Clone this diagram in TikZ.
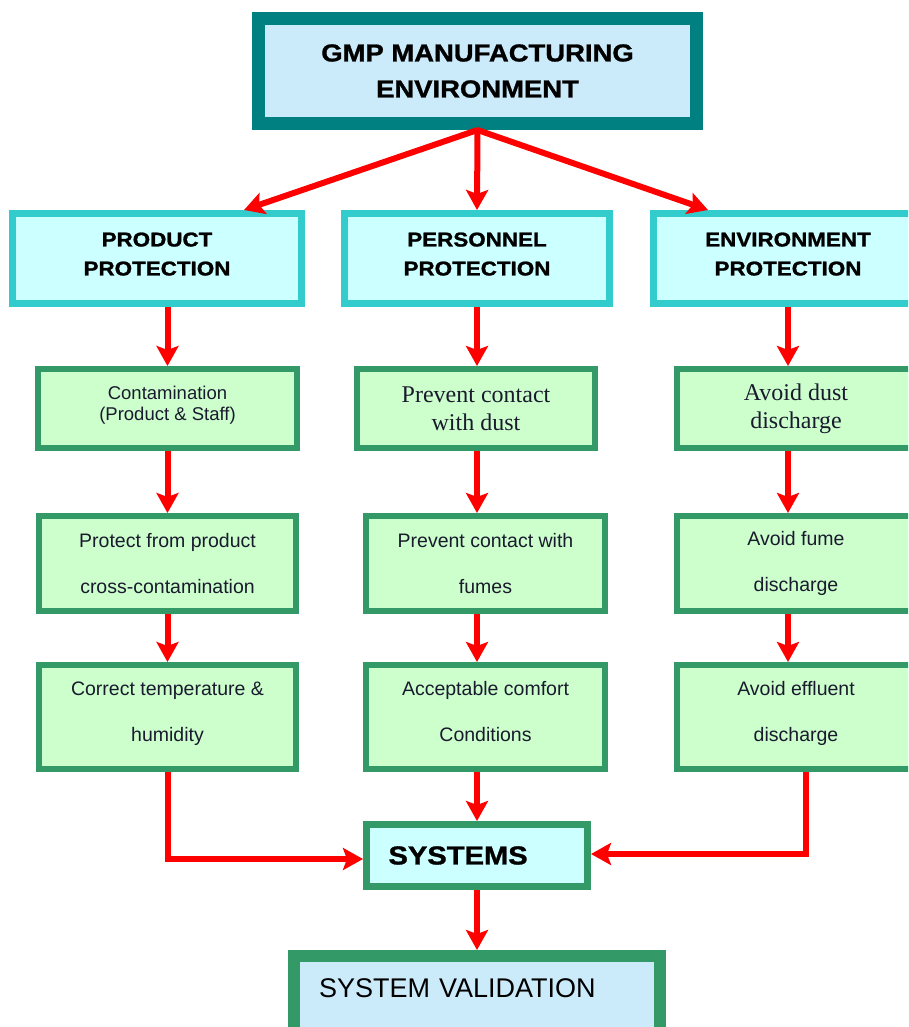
\documentclass[tikz,border=0pt]{standalone}
\usepackage{fontspec}
\setmainfont{Liberation Serif}
\setsansfont{Liberation Sans}
\newfontfamily\heavyfont[FakeBold=1.2,FakeStretch=1.12]{Liberation Sans Bold}
\usetikzlibrary{arrows.meta}
\definecolor{tealline}{HTML}{008080}
\definecolor{skyfill}{HTML}{CCEBFA}
\definecolor{turqline}{HTML}{33CCCC}
\definecolor{aquafill}{HTML}{CCFFFF}
\definecolor{greenline}{HTML}{339966}
\definecolor{mintfill}{HTML}{CCFFCC}
\definecolor{navytext}{HTML}{1A1A2E}

\begin{document}
\begin{tikzpicture}[x=1pt, y=-1pt,
    box/.style={draw, rectangle, align=center, inner sep=2pt},
    main/.style={box, draw=tealline, fill=skyfill, line width=13pt,
        font=\heavyfont\fontsize{24.5}{36}\selectfont},
    prot/.style={box, draw=turqline, fill=aquafill, line width=7pt, text depth=9pt,
        minimum height=90pt, font=\heavyfont\fontsize{20}{29}\selectfont},
    item/.style={box, draw=greenline, fill=mintfill, line width=6pt,
        text=navytext},
    arr/.style={draw=red, line width=6pt,
        -{Stealth[length=20pt,width=22pt,inset=4pt]}}]
    \useasboundingbox (0,0) rectangle (908,1027);
    \clip (0,0) rectangle (908,1027);

    \node[main, minimum width=438pt, minimum height=105pt] (top) at (477.5,71)
        {GMP MANUFACTURING\\ENVIRONMENT};

    \node[prot, minimum width=289pt] (prod) at (157,258.5) {PRODUCT\\PROTECTION};
    \node[prot, minimum width=265pt] (pers) at (477,258.5) {PERSONNEL\\PROTECTION};
    \node[prot, minimum width=269pt] (env) at (788,258.5) {ENVIRONMENT\\PROTECTION};

    % first row
    \node[item, minimum width=259pt, minimum height=79pt, text depth=10pt,
        font=\sffamily\fontsize{18.5}{21}\selectfont] (cont) at (167.5,408.5)
        {Contamination\\(Product \& Staff)};
    \begin{scope}[every node/.append style={minimum width=238pt, minimum height=79pt,
        font=\rmfamily\fontsize{24}{28}\selectfont}]
        \node[item] (dust) at (476,408.5) {Prevent contact\\with dust};
        \node[item] (ddis) at (796,408.5) {Avoid dust\\discharge};
    \end{scope}

    % second and third rows
    \begin{scope}[every node/.append style={font=\sffamily\fontsize{19.5}{46}\selectfont}]
        \node[item, minimum width=257pt, minimum height=95pt] (cross) at (167.5,563.5)
            {Protect from product\\cross-contamination};
        \node[item, minimum width=239pt, minimum height=95pt] (fume) at (485.5,563.5)
            {Prevent contact with\\fumes};
        \node[item, minimum width=238pt, minimum height=95pt] (fdis) at (796,563.5)
            {Avoid fume\\discharge};
        \node[item, minimum width=257pt, minimum height=104pt, text depth=11pt] (hum)
            at (167.5,717) {Correct temperature \&\\humidity};
        \node[item, minimum width=239pt, minimum height=104pt, text depth=11pt] (comf)
            at (485.5,717) {Acceptable comfort\\Conditions};
        \node[item, minimum width=238pt, minimum height=104pt, text depth=11pt] (edis)
            at (796,717) {Avoid effluent\\discharge};
    \end{scope}

    \node[item, fill=aquafill, text=black, line width=7pt, minimum width=221pt,
        minimum height=62pt, text width=177pt, inner xsep=22pt, align=left,
        font=\heavyfont\fontsize{26}{30}\selectfont] (sys) at (477,855.5) {SYSTEMS};
    \node[item, fill=skyfill, text=black, line width=12pt, minimum width=366pt,
        minimum height=80pt, text width=316pt, inner xsep=25pt, align=left, text depth=16pt,
        font=\sffamily\fontsize{27}{30}\selectfont] (val) at (477,996) {SYSTEM VALIDATION};

    \draw[arr] (top.south) -- ([xshift=87pt]prod.north);
    \draw[arr] (top.south) -- (pers.north);
    \draw[arr] (top.south) -- ([xshift=-80pt]env.north);
    \foreach \a/\b/\c in {prod/cont/cont, cont/cross/cont, cross/hum/cont,
        pers/dust/pers, dust/fume/pers, fume/comf/pers,
        env/ddis/env, ddis/fdis/env, fdis/edis/env}
        \draw[arr] (\a.south -| \c) -- (\b.north -| \c);
    \draw[arr] (hum.south) |- ([yshift=-3.5pt]sys.west);
    \draw[arr] ([xshift=10pt]edis.south) |- ([yshift=1.5pt]sys.east);
    \draw[arr] (comf.south -| sys) -- (sys.north);
    \draw[arr] (sys.south) -- (val.north);
\end{tikzpicture}
\end{document}
